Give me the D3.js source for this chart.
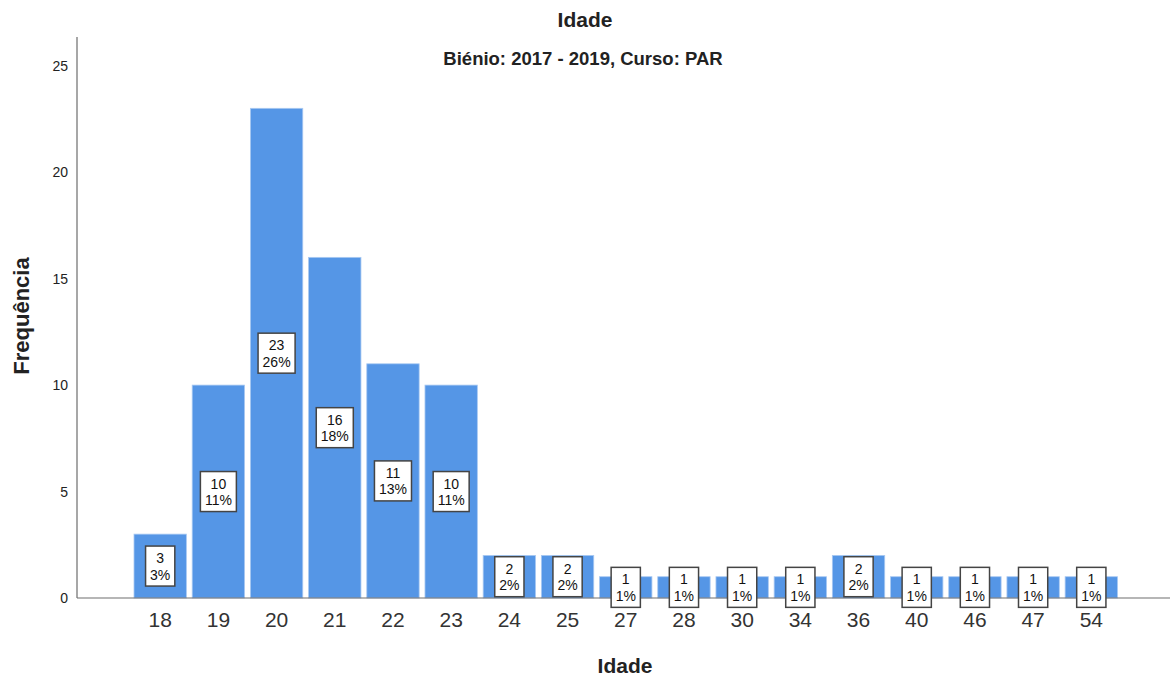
<!DOCTYPE html>
<html><head><meta charset="utf-8">
<script src="https://d3js.org/d3.v7.min.js"></script>
<style>body{margin:0;background:#fff;}svg{display:block;font-family:Arial,"Liberation Sans",sans-serif;}</style>
</head><body>
<svg id="c" width="1173" height="677"></svg>
<script>
const categories = ["18","19","20","21","22","23","24","25","27","28","30","34","36","40","46","47","54"];
const counts = [3,10,23,16,11,10,2,2,1,1,1,1,2,1,1,1,1];
const yTicks = [0,5,10,15,20,25];
const title = "Idade";
const subtitle = "Biénio: 2017 - 2019, Curso: PAR";
const xTitle = "Idade";
const yTitle = "Frequência";

const total = d3.sum(counts);
const svg = d3.select("#c");
const x = d3.scaleBand().domain(categories).range([134, 1117.5]).paddingInner(0.1).paddingOuter(0);
const y = d3.scaleLinear().domain([0, 26.35]).range([598, 37]);

// bars
svg.append("g").selectAll("rect").data(counts).join("rect")
  .attr("x", (d,i)=>x(categories[i]))
  .attr("y", d=>y(d))
  .attr("width", x.bandwidth())
  .attr("height", d=>y(0)-y(d))
  .attr("fill", "#5596e6")
  .attr("stroke", "#a9c9f2").attr("stroke-width", 0.8);

// axes lines
svg.append("line").attr("x1",77).attr("x2",77).attr("y1",37).attr("y2",598).attr("stroke","#8a8a8a").attr("stroke-width",1.5);
svg.append("line").attr("x1",77).attr("x2",1170).attr("y1",598).attr("y2",598).attr("stroke","#6e6e6e").attr("stroke-width",1.2);

// y ticks
const yAx = d3.axisLeft(y).tickValues(yTicks).tickSize(0).tickPadding(9);
const gy = svg.append("g").attr("transform","translate(77,0)").call(yAx);
gy.select(".domain").remove();
gy.selectAll("text").attr("font-size",14).attr("fill","#222").attr("font-family","Arial, 'Liberation Sans', sans-serif");

// x ticks
const xAx = d3.axisBottom(x).tickSize(0).tickPadding(14);
const gx = svg.append("g").attr("transform","translate(0,598)").call(xAx);
gx.select(".domain").remove();
gx.selectAll("text").attr("font-size",21).attr("fill","#333").attr("font-family","Arial, 'Liberation Sans', sans-serif");

// labels
const lab = svg.append("g");
counts.forEach((d,i)=>{
  const cx = x(categories[i]) + x.bandwidth()/2;
  const cy = y(d/2);
  const pct = Math.round(d/total*100) + "%";
  const g = lab.append("g");
  const t1 = g.append("text").attr("x",cx).attr("y",cy-3).attr("text-anchor","middle").attr("font-size",14).attr("fill","#111").text(d);
  const t2 = g.append("text").attr("x",cx).attr("y",cy+13.5).attr("text-anchor","middle").attr("font-size",14).attr("fill","#111").text(pct);
  const w = Math.max(t1.node().getComputedTextLength(), t2.node().getComputedTextLength()) + 9;
  g.insert("rect","text").attr("x",cx-w/2).attr("y",cy-20).attr("width",w).attr("height",40)
    .attr("fill","#fff").attr("stroke","#444").attr("stroke-width",1.5);
});

// titles
svg.append("text").attr("x",585).attr("y",27).attr("text-anchor","middle").attr("font-size",21).attr("font-weight","bold").attr("fill","#222").text(title);
svg.append("text").attr("x",583).attr("y",65).attr("text-anchor","middle").attr("font-size",18.5).attr("font-weight","bold").attr("fill","#222").text(subtitle);
svg.append("text").attr("x",625).attr("y",673).attr("text-anchor","middle").attr("font-size",21).attr("font-weight","bold").attr("fill","#222").text(xTitle);
svg.append("text").attr("transform","translate(29,316) rotate(-90)").attr("text-anchor","middle").attr("font-size",22).attr("font-weight","bold").attr("fill","#222").text(yTitle);
</script>
</body></html>
